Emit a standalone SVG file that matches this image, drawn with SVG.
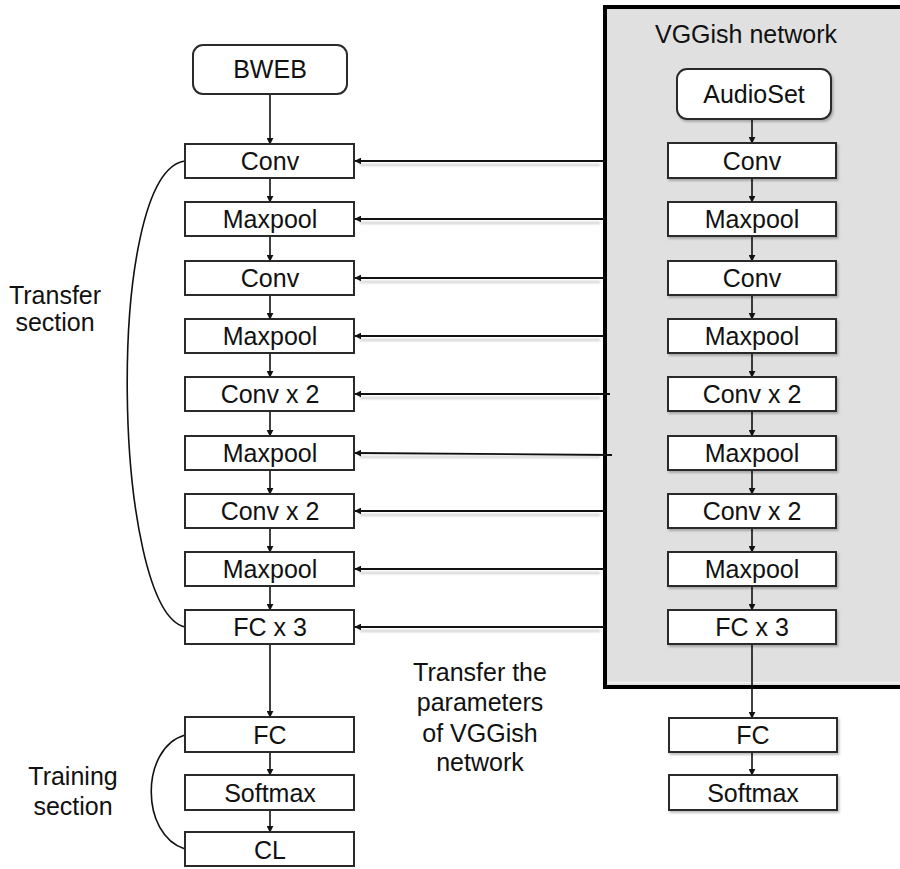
<svg xmlns="http://www.w3.org/2000/svg" width="900" height="869" viewBox="0 0 900 869">
  <defs>
    <marker id="arr" viewBox="0 0 10 10" refX="9" refY="5" markerWidth="7" markerHeight="7" markerUnits="userSpaceOnUse" orient="auto">
      <path d="M0,0 L10,5 L0,10 z" fill="#111"/>
    </marker>
    <filter id="shadow" x="-10%" y="-20%" width="130%" height="160%">
      <feDropShadow dx="1.5" dy="2" stdDeviation="1.2" flood-color="#000" flood-opacity="0.25"/>
    </filter>
    <filter id="soft" x="-5%" y="-100%" width="110%" height="300%">
      <feGaussianBlur stdDeviation="1"/>
    </filter>
  </defs>
  <style>
    .box { fill: #fff; stroke: #2a2a2a; stroke-width: 2; }
    .lbl { font-family: "Liberation Sans", Arial, sans-serif; font-size: 25px; fill: #111; text-anchor: middle; }
    .note { font-family: "Liberation Sans", Arial, sans-serif; font-size: 25px; fill: #111; text-anchor: middle; }
    .flow { stroke: #111; stroke-width: 1.6; fill: none; marker-end: url(#arr); }
    .xfer { stroke: #111; stroke-width: 1.8; fill: none; marker-end: url(#arr); }
    .xshadow { stroke: #ccc; stroke-width: 2; fill: none; }
    .brace { stroke: #111; stroke-width: 1.6; fill: none; }
  </style>

  <rect width="900" height="869" fill="#fff"/>

  <!-- VGGish panel -->
  <g id="vggish-panel">
    <rect x="605" y="7" width="300" height="680" fill="#e0e0e0" stroke="#000" stroke-width="4"/>
    <line x1="608" y1="682.5" x2="900" y2="682.5" stroke="#f4f4f4" stroke-width="1.5"/>
    <text class="note" x="746" y="43">VGGish network</text>
  </g>

  <!-- connectors -->
  <g id="connectors">
    <!-- transfer arrows (shadows first) -->
    <g filter="url(#soft)">
      <line class="xshadow" x1="360" y1="165" x2="600" y2="165"/>
      <line class="xshadow" x1="360" y1="223" x2="600" y2="223"/>
      <line class="xshadow" x1="360" y1="282" x2="600" y2="282"/>
      <line class="xshadow" x1="360" y1="340" x2="600" y2="340"/>
      <line class="xshadow" x1="360" y1="398" x2="600" y2="398"/>
      <line class="xshadow" x1="360" y1="457" x2="600" y2="457"/>
      <line class="xshadow" x1="360" y1="515" x2="600" y2="515"/>
      <line class="xshadow" x1="360" y1="573" x2="600" y2="573"/>
      <line class="xshadow" x1="360" y1="631" x2="600" y2="631"/>
    </g>
    <line class="xfer" x1="605" y1="161" x2="355" y2="161"/>
    <line class="xfer" x1="605" y1="219" x2="355" y2="219"/>
    <line class="xfer" x1="605" y1="278" x2="355" y2="278"/>
    <line class="xfer" x1="605" y1="336" x2="355" y2="336"/>
    <line class="xfer" x1="610" y1="394" x2="355" y2="394"/>
    <line class="xfer" x1="612" y1="455" x2="355" y2="453"/>
    <line class="xfer" x1="605" y1="511" x2="355" y2="511"/>
    <line class="xfer" x1="605" y1="569" x2="355" y2="569"/>
    <line class="xfer" x1="605" y1="627" x2="355" y2="627"/>

    <!-- left column flow -->
    <line class="flow" x1="270" y1="94" x2="270" y2="144"/>
    <line class="flow" x1="270" y1="178" x2="270" y2="202"/>
    <line class="flow" x1="270" y1="236" x2="270" y2="261"/>
    <line class="flow" x1="270" y1="295" x2="270" y2="319"/>
    <line class="flow" x1="270" y1="353" x2="270" y2="377"/>
    <line class="flow" x1="270" y1="411" x2="270" y2="436"/>
    <line class="flow" x1="270" y1="470" x2="270" y2="494"/>
    <line class="flow" x1="270" y1="528" x2="270" y2="552"/>
    <line class="flow" x1="270" y1="586" x2="270" y2="610"/>
    <line class="flow" x1="270" y1="644" x2="270" y2="717"/>
    <line class="flow" x1="270" y1="752" x2="270" y2="775"/>
    <line class="flow" x1="270" y1="810" x2="270" y2="832"/>

    <!-- right column flow -->
    <line class="flow" x1="752" y1="119" x2="752" y2="143"/>
    <line class="flow" x1="752" y1="178" x2="752" y2="202"/>
    <line class="flow" x1="752" y1="236" x2="752" y2="261"/>
    <line class="flow" x1="752" y1="295" x2="752" y2="319"/>
    <line class="flow" x1="752" y1="353" x2="752" y2="377"/>
    <line class="flow" x1="752" y1="411" x2="752" y2="436"/>
    <line class="flow" x1="752" y1="470" x2="752" y2="494"/>
    <line class="flow" x1="752" y1="528" x2="752" y2="552"/>
    <line class="flow" x1="752" y1="586" x2="752" y2="610"/>
    <line class="flow" x1="752" y1="644" x2="752" y2="718"/>
    <line class="flow" x1="752" y1="752" x2="752" y2="775"/>

    <!-- section braces -->
    <path class="brace" d="M185,161 C104,172 112,610 185,627"/>
    <path class="brace" d="M185,735 C140,748 140,835 185,849"/>
  </g>

  <!-- left column -->
  <g id="bweb"><rect class="box" x="193" y="45" width="154" height="49" rx="10"/><text class="lbl" x="270" y="78">BWEB</text></g>
  <g id="l-conv1"><rect class="box" x="185" y="144" width="169" height="34"/><text class="lbl" x="270" y="170">Conv</text></g>
  <g id="l-pool1"><rect class="box" x="185" y="202" width="169" height="34"/><text class="lbl" x="270" y="228">Maxpool</text></g>
  <g id="l-conv2"><rect class="box" x="185" y="261" width="169" height="34"/><text class="lbl" x="270" y="287">Conv</text></g>
  <g id="l-pool2"><rect class="box" x="185" y="319" width="169" height="34"/><text class="lbl" x="270" y="345">Maxpool</text></g>
  <g id="l-conv3"><rect class="box" x="185" y="377" width="169" height="34"/><text class="lbl" x="270" y="403">Conv x 2</text></g>
  <g id="l-pool3"><rect class="box" x="185" y="436" width="169" height="34"/><text class="lbl" x="270" y="462">Maxpool</text></g>
  <g id="l-conv4"><rect class="box" x="185" y="494" width="169" height="34"/><text class="lbl" x="270" y="520">Conv x 2</text></g>
  <g id="l-pool4"><rect class="box" x="185" y="552" width="169" height="34"/><text class="lbl" x="270" y="578">Maxpool</text></g>
  <g id="l-fc3"><rect class="box" x="185" y="610" width="169" height="34"/><text class="lbl" x="270" y="636">FC x 3</text></g>
  <g id="l-fc"><rect class="box" x="185" y="717" width="169" height="35"/><text class="lbl" x="270" y="744">FC</text></g>
  <g id="l-softmax"><rect class="box" x="185" y="775" width="169" height="35"/><text class="lbl" x="270" y="802">Softmax</text></g>
  <g id="l-cl"><rect class="box" x="185" y="832" width="169" height="34"/><text class="lbl" x="270" y="859">CL</text></g>

  <!-- right column -->
  <g id="audioset"><rect class="box" x="677" y="69" width="154" height="50" rx="10" filter="url(#shadow)"/><text class="lbl" x="754" y="103">AudioSet</text></g>
  <g id="r-conv1"><rect class="box" x="668" y="143" width="168" height="35" filter="url(#shadow)"/><text class="lbl" x="752" y="170">Conv</text></g>
  <g id="r-pool1"><rect class="box" x="668" y="202" width="168" height="34" filter="url(#shadow)"/><text class="lbl" x="752" y="228">Maxpool</text></g>
  <g id="r-conv2"><rect class="box" x="668" y="261" width="168" height="34" filter="url(#shadow)"/><text class="lbl" x="752" y="287">Conv</text></g>
  <g id="r-pool2"><rect class="box" x="668" y="319" width="168" height="34" filter="url(#shadow)"/><text class="lbl" x="752" y="345">Maxpool</text></g>
  <g id="r-conv3"><rect class="box" x="668" y="377" width="168" height="34" filter="url(#shadow)"/><text class="lbl" x="752" y="403">Conv x 2</text></g>
  <g id="r-pool3"><rect class="box" x="668" y="436" width="168" height="34" filter="url(#shadow)"/><text class="lbl" x="752" y="462">Maxpool</text></g>
  <g id="r-conv4"><rect class="box" x="668" y="494" width="168" height="34" filter="url(#shadow)"/><text class="lbl" x="752" y="520">Conv x 2</text></g>
  <g id="r-pool4"><rect class="box" x="668" y="552" width="168" height="34" filter="url(#shadow)"/><text class="lbl" x="752" y="578">Maxpool</text></g>
  <g id="r-fc3"><rect class="box" x="668" y="610" width="168" height="34" filter="url(#shadow)"/><text class="lbl" x="752" y="636">FC x 3</text></g>
  <g id="r-fc"><rect class="box" x="669" y="718" width="168" height="34" filter="url(#shadow)"/><text class="lbl" x="753" y="744">FC</text></g>
  <g id="r-softmax"><rect class="box" x="669" y="775" width="168" height="35" filter="url(#shadow)"/><text class="lbl" x="753" y="802">Softmax</text></g>

  <!-- annotations -->
  <g id="transfer-section-label">
    <text class="note" x="55" y="304">Transfer</text>
    <text class="note" x="55" y="331">section</text>
  </g>
  <g id="training-section-label">
    <text class="note" x="73" y="785">Training</text>
    <text class="note" x="73" y="815">section</text>
  </g>
  <g id="transfer-note">
    <text class="note" x="480" y="681">Transfer the</text>
    <text class="note" x="480" y="711">parameters</text>
    <text class="note" x="480" y="742">of VGGish</text>
    <text class="note" x="480" y="771">network</text>
  </g>
</svg>
